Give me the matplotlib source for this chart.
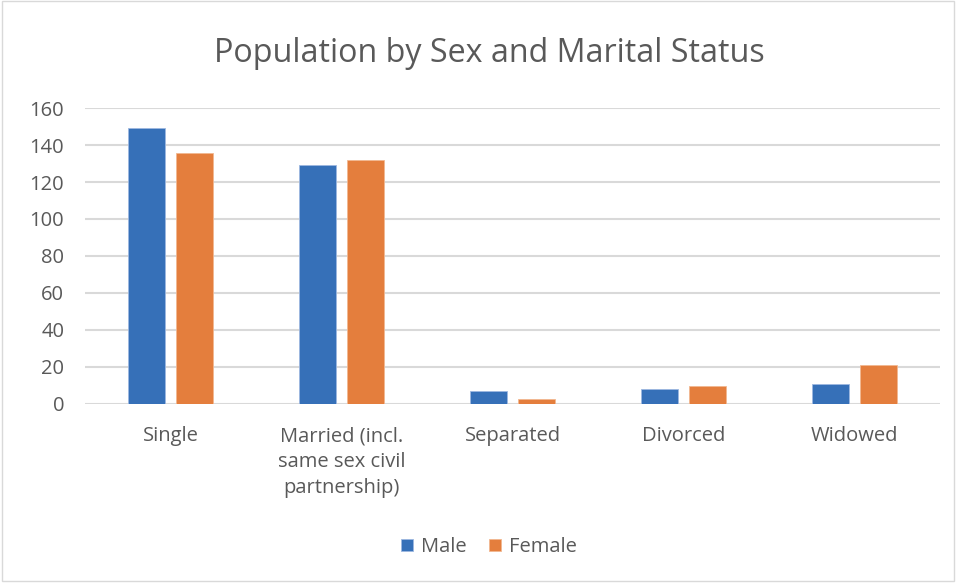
import matplotlib
matplotlib.use("Agg")
import matplotlib.pyplot as plt
import numpy as np
from matplotlib.patches import Rectangle

categories = ["Single", "Married (incl.\nsame sex civil\npartnership)", "Separated", "Divorced", "Widowed"]
male = [149.5, 129.5, 7, 8, 10.5]
female = [136, 132, 2.5, 9.5, 21]
yticks = [0, 20, 40, 60, 80, 100, 120, 140, 160]

plt.rcParams['font.family'] = ['Open Sans', 'DejaVu Sans']
fig = plt.figure(figsize=(9.56, 5.83), dpi=100)
ax = fig.add_axes([85/956, 1-403.5/583, 855/956, (403.5-108.3)/583])

x = np.arange(len(categories))
off = 0.142
w = 0.214
blue = "#3670B8"
orange = "#E47E3D"
ax.bar(x - off, male, w, color=blue, edgecolor="#9db8e0", linewidth=0.6, label="Male", zorder=3)
ax.bar(x + off, female, w, color=orange, edgecolor="#f2b891", linewidth=0.6, label="Female", zorder=3)

ax.set_xlim(-0.5, 4.5)
ax.set_ylim(0, 160)
ax.set_yticks(yticks)
ax.set_xticks(x)
ax.set_xticklabels(categories, fontsize=14.5, color="#595959", linespacing=1.38, va="top")
ax.tick_params(axis='y', labelsize=14.5, labelcolor="#595959", length=0, pad=15)
ax.tick_params(axis='x', length=0, pad=16.5)
ax.grid(axis='y', color="#d9d9d9", linewidth=1.5, zorder=0)
for s in ax.spines.values():
    s.set_visible(False)

fig.text(489/956, 1-54/583, "Population by Sex and Marital Status", ha="center", va="center",
         fontsize=23.2, color="#595959")

leg = fig.legend(loc="center", bbox_to_anchor=(489/956, 1-547/583), ncol=2, frameon=False,
                 fontsize=14.5, handlelength=0.6, handleheight=0.6, handletextpad=0.4, columnspacing=1.1)
for t in leg.get_texts():
    t.set_color("#595959")

fig.patches.append(Rectangle((0.002, 0.004), 0.996, 0.994, transform=fig.transFigure,
                             fill=False, edgecolor="#d9d9d9", linewidth=1))

fig.savefig("out.png", dpi=100, facecolor="white")
